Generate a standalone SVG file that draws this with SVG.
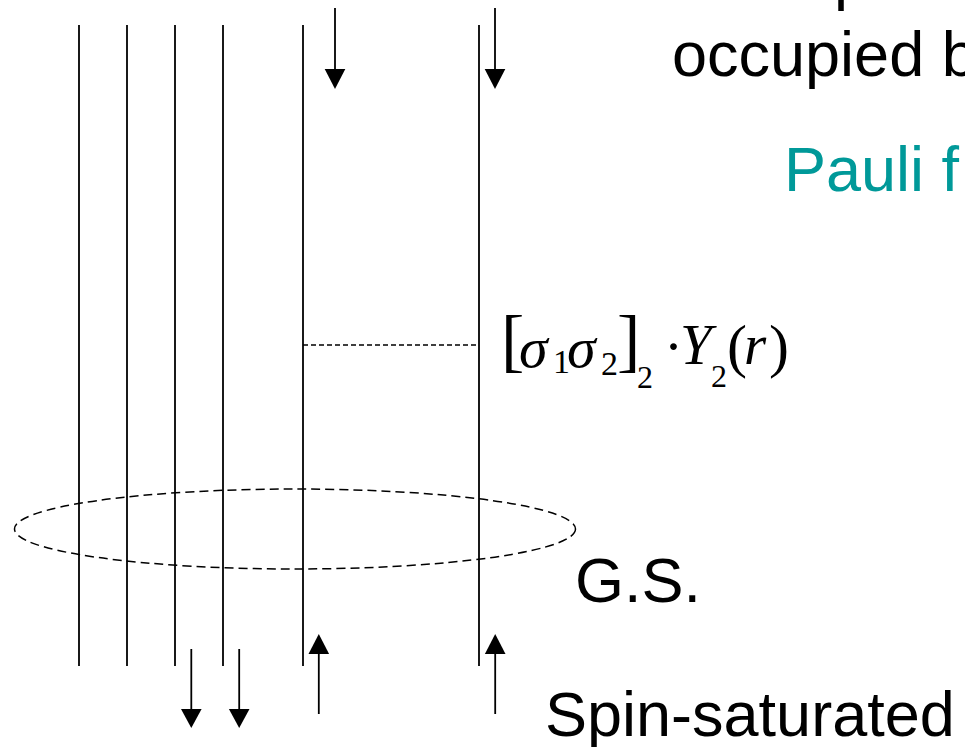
<svg xmlns="http://www.w3.org/2000/svg" width="965" height="747" viewBox="0 0 965 747">
  <style>
    .ln { stroke: #000; stroke-width: 1.8; fill: none; }
    .ar { stroke: #000; stroke-width: 1.8; fill: none; }
    .hd { fill: #000; stroke: none; }
    .dash { stroke: #000; stroke-width: 1.5; fill: none; stroke-dasharray: 5 3; }
    .ell { stroke: #000; stroke-width: 1.5; fill: none; stroke-dasharray: 9 5; }
    .lbl { font-family: "Liberation Sans", Arial, sans-serif; font-size: 63px; fill: #000; }
    .teal { fill: #009999; }
    .math { font-family: "Liberation Serif", "Times New Roman", serif; font-size: 57px; fill: #000; }
    .it { font-style: italic; }
    .sig { font-size: 58px; font-style: italic; }
    .br { font-size: 70px; }
    .par { font-size: 60px; }
    .sub { font-size: 34px; }
    .sub2 { font-size: 32px; }
  </style>

  <g id="orbit-lines">
    <line class="ln" x1="79" y1="25" x2="79" y2="666"/>
    <line class="ln" x1="127" y1="25" x2="127" y2="666"/>
    <line class="ln" x1="175" y1="25" x2="175" y2="666"/>
    <line class="ln" x1="223" y1="25" x2="223" y2="666"/>
    <line class="ln" x1="303" y1="25" x2="303" y2="666"/>
    <line class="ln" x1="479" y1="25" x2="479" y2="666"/>
  </g>

  <g id="spin-arrows">
    <line class="ar" x1="335" y1="8" x2="335" y2="70"/>
    <polygon class="hd" points="324.7,69 345.3,69 335,89"/>
    <line class="ar" x1="495" y1="8" x2="495" y2="70"/>
    <polygon class="hd" points="484.7,69 505.3,69 495,89"/>

    <line class="ar" x1="191.3" y1="649" x2="191.3" y2="710"/>
    <polygon class="hd" points="181,709 201.6,709 191.3,728"/>
    <line class="ar" x1="239.2" y1="649" x2="239.2" y2="710"/>
    <polygon class="hd" points="228.9,709 249.5,709 239.2,728"/>

    <line class="ar" x1="318.8" y1="653" x2="318.8" y2="714"/>
    <polygon class="hd" points="308.5,654 329.1,654 318.8,634"/>
    <line class="ar" x1="495.2" y1="653" x2="495.2" y2="714"/>
    <polygon class="hd" points="484.9,654 505.5,654 495.2,634"/>
  </g>

  <g id="connectors">
    <line class="dash" x1="303" y1="345" x2="479" y2="345"/>
    <ellipse class="ell" cx="295" cy="529" rx="280.5" ry="40"/>
  </g>

  <g id="formula">
    <text class="math"><tspan class="br" x="501" y="364">[</tspan><tspan class="sig" x="519" y="367">σ</tspan><tspan class="sub" x="553" y="373">1</tspan><tspan class="sig" x="567" y="367">σ</tspan><tspan class="sub" x="601" y="375">2</tspan><tspan class="br" x="617" y="364">]</tspan><tspan class="sub2" x="637" y="388">2</tspan><tspan x="664" y="366">·</tspan><tspan class="it" x="680" y="364">Y</tspan><tspan class="sub2" x="711" y="387">2</tspan><tspan class="par" x="727" y="366">(</tspan><tspan class="it" x="744" y="364">r</tspan><tspan class="par" x="769" y="366">)</tspan></text>
  </g>

  <g id="labels">
    <text class="lbl" x="834" y="-2">p</text>
    <text class="lbl" x="672" y="76">occupied b</text>
    <text class="lbl teal" x="784" y="191">Pauli f</text>
    <text class="lbl" x="575" y="602">G.S.</text>
    <text class="lbl" x="545" y="736">Spin-saturated</text>
  </g>
</svg>
